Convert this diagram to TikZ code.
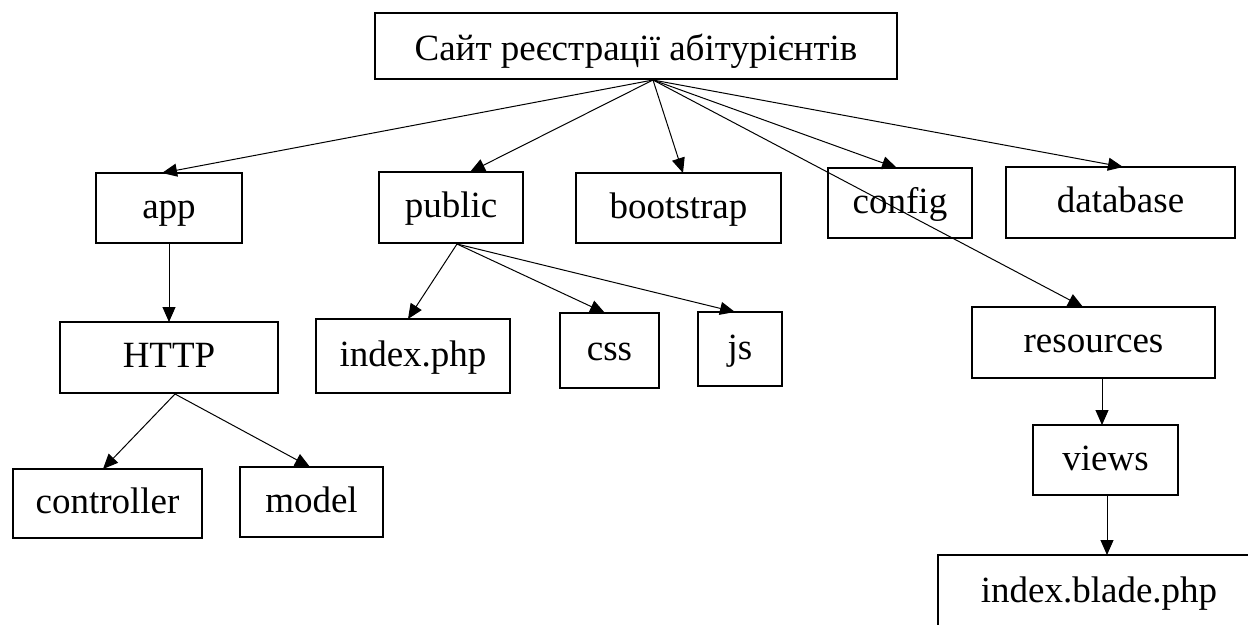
\documentclass[tikz,border=0pt]{standalone}
\usepackage{fontspec}
\setmainfont{Liberation Serif}
\usetikzlibrary{arrows.meta}
\begin{document}
\begin{tikzpicture}[x=1pt,y=-1pt,
  box/.style={draw, line width=2.2pt, inner sep=0pt, outer sep=0pt, align=center,
    text height=27pt, text depth=7pt,
    font=\fontsize{37}{40}\selectfont},
  conn/.style={line width=1pt, -{Triangle[length=15pt,width=13pt]}}]
\useasboundingbox (0,0) rectangle (1248,624);
\clip (0,0) rectangle (1248,624);
\fill[white] (0,0) rectangle (1248,624);
% nodes
\node[box, text height=28pt, text depth=0pt, minimum width=522pt, minimum height=66pt] (top) at (636,46) {Сайт реєстрації абітурієнтів};
\node[box, minimum width=146pt, minimum height=70pt] (app) at (169,208) {app};
\node[box, minimum width=144pt, minimum height=71pt] (public) at (451,207.5) {public};
\node[box, minimum width=205pt, minimum height=70pt] (bootstrap) at (678.5,208) {bootstrap};
\node[box, minimum width=144pt, minimum height=70pt] (config) at (900,203) {config};
\node[box, minimum width=229pt, minimum height=71pt] (database) at (1120.5,202.5) {database};
\node[box, minimum width=218pt, minimum height=71pt] (http) at (169,357.5) {HTTP};
\node[box, minimum width=194pt, minimum height=74pt] (indexphp) at (413,356) {index.php};
\node[box, minimum width=99pt, minimum height=75pt] (css) at (609.5,350.5) {css};
\node[box, minimum width=84pt, minimum height=74pt] (js) at (740,349) {js};
\node[box, minimum width=243pt, minimum height=71pt] (resources) at (1093.5,342.5) {resources};
\node[box, minimum width=145pt, minimum height=70pt] (views) at (1105.5,460) {views};
\node[box, minimum width=322pt, minimum height=74pt] (blade) at (1099,592) {index.blade.php};
\node[box, minimum width=189pt, minimum height=69pt] (controller) at (107.5,503.5) {controller};
\node[box, minimum width=143pt, minimum height=70pt] (model) at (311.5,502) {model};
% connectors
\coordinate (o) at ([xshift=17pt,yshift=-1pt]top.south);
\draw[conn] (o) -- ([xshift=-7pt]app.north);
\draw[conn] (o) -- ([xshift=19pt]public.north);
\draw[conn] (o) -- ([xshift=4.5pt]bootstrap.north);
\draw[conn] (o) -- ([xshift=-3pt]config.north);
\draw[conn] (o) -- ([xshift=2.5pt]database.north);
\draw[conn] (o) -- ([xshift=-10.5pt]resources.north);
\coordinate (po) at ([xshift=6pt,yshift=-1pt]public.south);
\draw[conn] (po) -- ([xshift=-5pt]indexphp.north);
\draw[conn] (po) -- ([xshift=-4.5pt]css.north);
\draw[conn] (po) -- ([xshift=-5pt]js.north);
\draw[conn] ([yshift=-1pt]app.south) -- (http.north);
\coordinate (ho) at ([xshift=6pt,yshift=-1pt]http.south);
\draw[conn] (ho) -- ([xshift=-4.5pt]controller.north);
\draw[conn] (ho) -- ([xshift=-1.5pt]model.north);
\draw[conn] ([xshift=8.5pt,yshift=-1pt]resources.south) -- ([xshift=-3.5pt]views.north);
\draw[conn] ([xshift=1.5pt,yshift=-1pt]views.south) -- ([xshift=8pt]blade.north);
\end{tikzpicture}
\end{document}
